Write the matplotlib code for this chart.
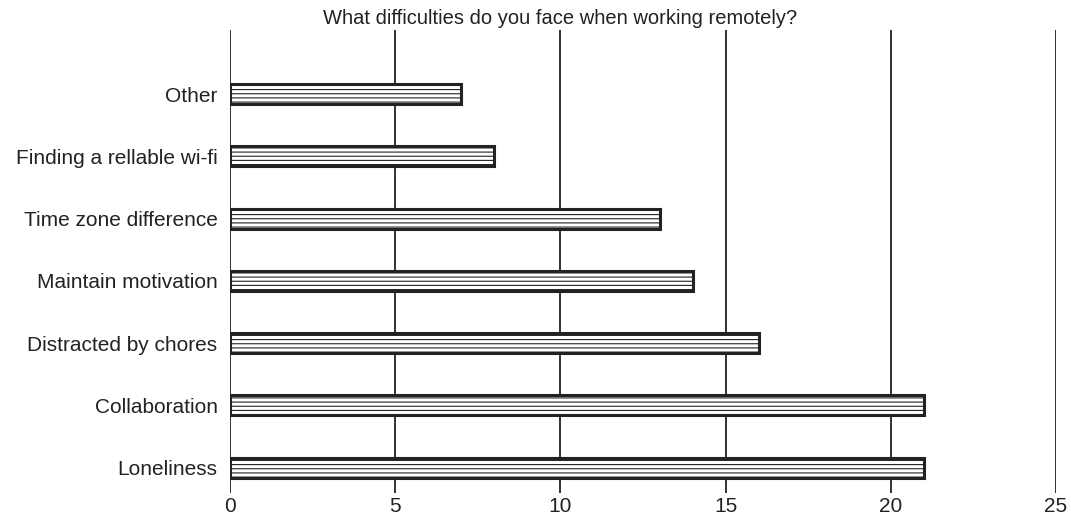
import matplotlib
matplotlib.use("Agg")
import matplotlib.pyplot as plt

plt.rcParams['font.family'] = ['Liberation Sans', 'DejaVu Sans']
plt.rcParams['hatch.color'] = '#777777'
plt.rcParams['hatch.linewidth'] = 0.8

categories = ["Loneliness", "Collaboration", "Distracted by chores",
              "Maintain motivation", "Time zone difference",
              "Finding a rellable wi-fi", "Other"]
values = [21, 21, 16, 14, 13, 8, 7]
xticks = [0, 5, 10, 15, 20, 25]

fig = plt.figure(figsize=(10.71, 5.19), dpi=100)
ax = fig.add_axes([0.2148, 0.051, 0.7712, 0.891])

ax.barh(range(len(categories)), values, height=0.32, color='white',
        edgecolor='#222222', linewidth=2.2, hatch='----', zorder=3)

for x in xticks:
    ax.axvline(x, color='#222222', linewidth=1.3, zorder=1)

ax.set_xlim(0, 25)
ax.set_ylim(-0.4, 7.03)
ax.set_xticks(xticks)
ax.set_yticks(range(len(categories)))
ax.set_yticklabels(categories)
ax.tick_params(length=0, colors='#222222')
ax.tick_params(axis='x', labelsize=15, pad=3)
ax.tick_params(axis='y', labelsize=15, pad=9)
for s in ax.spines.values():
    s.set_visible(False)

fig.text(0.523, 0.965, "What difficulties do you face when working remotely?",
         ha='center', va='center', fontsize=14.5, color='#222222')

fig.savefig("out.png", dpi=100)
